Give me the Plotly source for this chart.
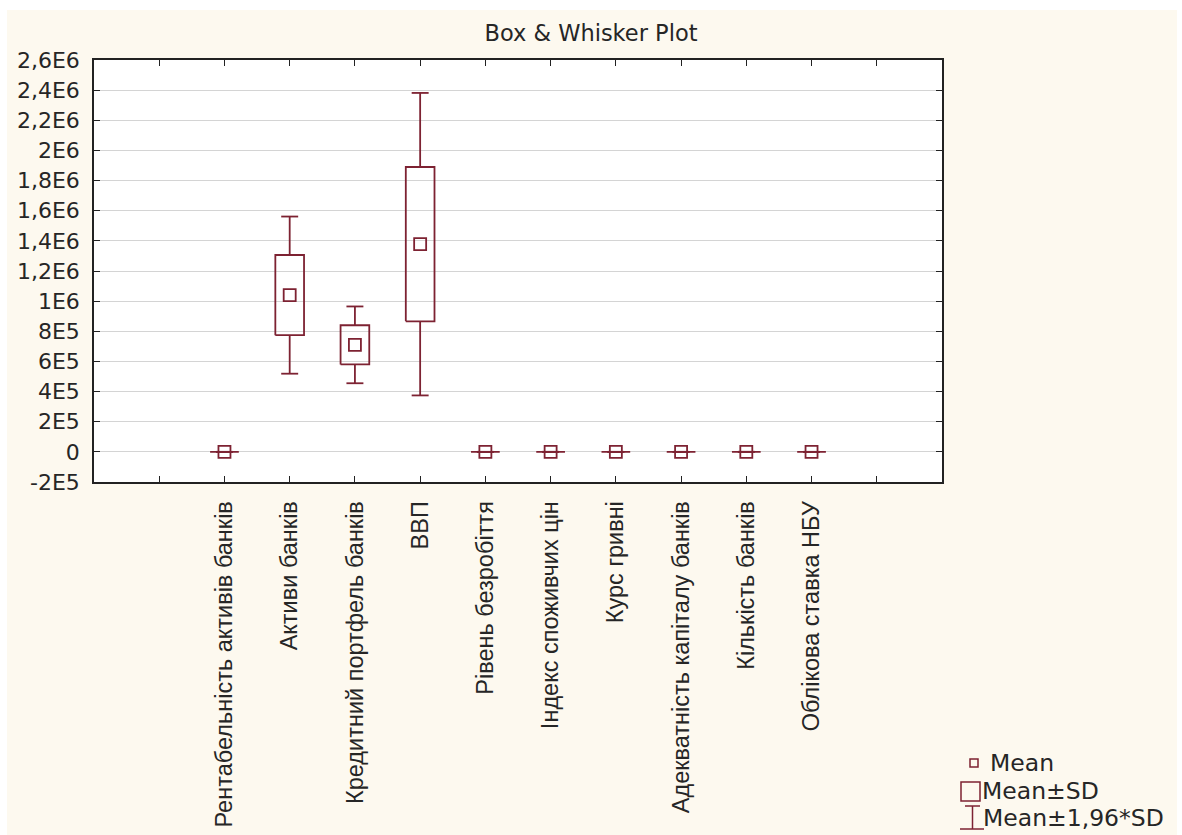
import plotly.graph_objects as go

# Variables (descriptive statistics): mean and standard deviation
categories = [
    "Рентабельність активів банків",
    "Активи банків",
    "Кредитний портфель банків",
    "ВВП",
    "Рівень безробіття",
    "Індекс споживчих цін",
    "Курс гривні",
    "Адекватність капіталу банків",
    "Кількість банків",
    "Облікова ставка НБУ",
]
means = [0.5, 1.04e6, 7.1e5, 1.378e6, 8.5, 112.0, 14.0, 17.0, 150.0, 13.0]
sds = [3.0, 2.66e5, 1.3e5, 5.12e5, 1.0, 8.0, 8.0, 2.5, 35.0, 5.0]

y_tickvals = [-2e5, 0, 2e5, 4e5, 6e5, 8e5, 1e6, 1.2e6, 1.4e6, 1.6e6, 1.8e6, 2e6, 2.2e6, 2.4e6, 2.6e6]
y_ticktext = ["-2E5", "0", "2E5", "4E5", "6E5", "8E5", "1E6", "1,2E6", "1,4E6", "1,6E6",
              "1,8E6", "2E6", "2,2E6", "2,4E6", "2,6E6"]

legend_labels = ["Mean", "Mean±SD", "Mean±1,96*SD"]

MAROON = "#7d2232"
TEXT = "#262626"
CREAM = "#fdf9ef"

W, H = 1182, 835
L, R, T, B = 94, 942, 60, 482

x_pos = list(range(1, len(categories) + 1))
box_hw = 0.22     # half width of the mean±SD box (x units)
cap_hw = 0.13     # half width of whisker caps
k = 1.96

# Build box outlines and whiskers from the statistics
bx, by, wx, wy = [], [], [], []
for x, m, s in zip(x_pos, means, sds):
    lo, hi = m - s, m + s
    bx += [x - box_hw, x + box_hw, x + box_hw, x - box_hw, x - box_hw, None]
    by += [lo, lo, hi, hi, lo, None]
    wlo, whi = m - k * s, m + k * s
    wx += [x, x, None, x, x, None,
           x - cap_hw, x + cap_hw, None, x - cap_hw, x + cap_hw, None]
    wy += [hi, whi, None, lo, wlo, None,
           whi, whi, None, wlo, wlo, None]

fig = go.Figure()
fig.add_trace(go.Scatter(x=wx, y=wy, mode="lines",
                         line=dict(color=MAROON, width=1.8),
                         hoverinfo="skip", showlegend=False))
fig.add_trace(go.Scatter(x=bx, y=by, mode="lines",
                         line=dict(color=MAROON, width=1.8),
                         hoverinfo="skip", showlegend=False))
fig.add_trace(go.Scatter(x=x_pos, y=means, mode="markers",
                         marker=dict(symbol="square-open", size=12,
                                     color=MAROON, line=dict(width=1.8, color=MAROON)),
                         showlegend=False))


def px_x(px):
    return (px - L) / (R - L)


def px_y(py):
    return (B - py) / (B - T)


shapes = []
# white border strips around the cream canvas
for x0, x1, y0, y1 in [(0, W, 0, 10), (0, 7, 0, H), (1177, W, 0, H)]:
    shapes.append(dict(type="rect", xref="paper", yref="paper",
                       x0=px_x(x0), x1=px_x(x1), y0=px_y(y0), y1=px_y(y1),
                       fillcolor="white", line=dict(width=0), layer="below"))

# legend symbols
leg_line = dict(color=MAROON, width=1.5)
shapes.append(dict(type="rect", xref="paper", yref="paper",
                   x0=px_x(970), x1=px_x(978), y0=px_y(767), y1=px_y(759), line=leg_line))
shapes.append(dict(type="rect", xref="paper", yref="paper",
                   x0=px_x(961), x1=px_x(980), y0=px_y(801), y1=px_y(782), line=leg_line))
for x0, x1, y0, y1 in [(965, 980, 806, 806), (972.5, 972.5, 806, 829), (960, 984, 829, 829)]:
    shapes.append(dict(type="line", xref="paper", yref="paper",
                       x0=px_x(x0), x1=px_x(x1), y0=px_y(y0), y1=px_y(y1), line=leg_line))

annotations = []
for label, tx, ty in zip(legend_labels, [988, 980, 981], [763, 791, 818]):
    annotations.append(dict(text=label, xref="paper", yref="paper",
                            x=px_x(tx), y=px_y(ty), xanchor="left", yanchor="middle",
                            showarrow=False,
                            font=dict(family="DejaVu Sans", size=23.5, color=TEXT)))

fig.update_layout(
    width=W, height=H,
    margin=dict(l=L, r=W - R, t=T, b=H - B, autoexpand=False),
    paper_bgcolor=CREAM,
    plot_bgcolor="white",
    showlegend=False,
    title=dict(text="Box & Whisker Plot", x=0.5, xref="container", xanchor="center",
               y=1 - 33 / H, yref="container", yanchor="middle",
               font=dict(family="DejaVu Sans", size=22.5, color=TEXT)),
    shapes=shapes,
    annotations=annotations,
)

fig.update_xaxes(
    range=[-1, len(categories) + 2],
    tickmode="array",
    tickvals=list(range(0, len(categories) + 2)),
    ticktext=[""] + categories + [""],
    tickangle=-90,
    ticks="inside", ticklen=6, tickwidth=1.3, tickcolor="#222",
    showline=True, linecolor="#222", linewidth=1.5, mirror="ticks",
    showgrid=False, zeroline=False,
    tickfont=dict(family="Liberation Sans", size=23.5, color=TEXT),
    ticklabelstandoff=8,
    automargin=False,
)
fig.update_yaxes(
    range=[-2e5, 2.6e6],
    tickmode="array", tickvals=y_tickvals, ticktext=y_ticktext,
    ticks="inside", ticklen=6, tickwidth=1.3, tickcolor="#222",
    showline=True, linecolor="#222", linewidth=1.5, mirror="ticks",
    showgrid=True, gridcolor="#d4d4d4", gridwidth=1,
    zeroline=False,
    tickfont=dict(family="DejaVu Sans", size=22, color=TEXT),
    ticklabelstandoff=8,
    automargin=False,
)

fig.write_html("out.html")
